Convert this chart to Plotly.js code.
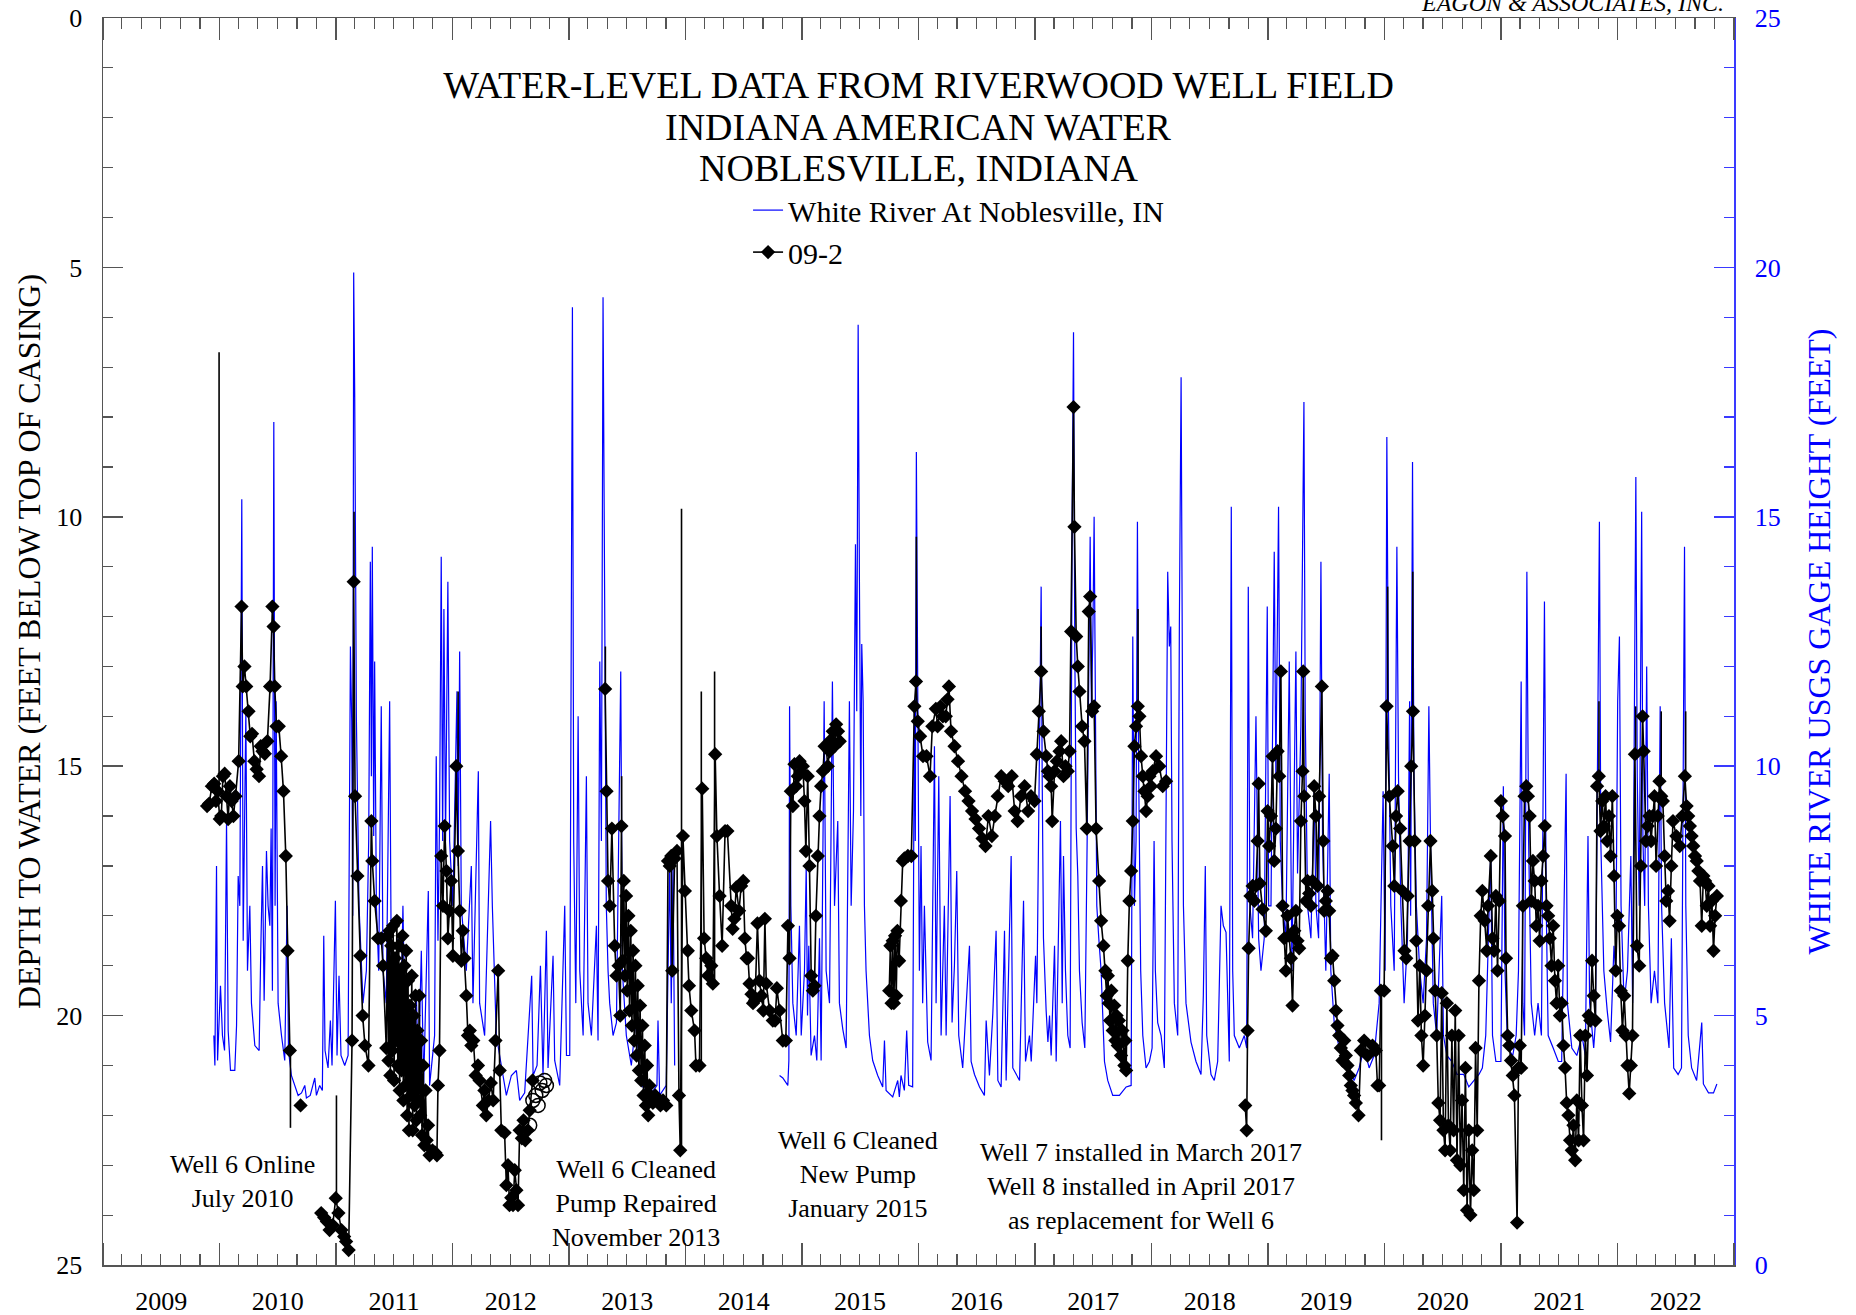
<!DOCTYPE html>
<html><head><meta charset="utf-8">
<script src="https://cdn.plot.ly/plotly-3.0.1.min.js"></script>
<style>html,body{margin:0;padding:0;background:#fff}#chart{width:1856px;height:1315px}</style>
</head><body><div id="chart"></div>
<script>
// ---- DATA (decimal year, value) ----
// White River gage height (ft), right axis
const riverReadings = [
[2009.952,4.6],[2009.961,4.0],[2009.975,8.0],[2009.984,4.1],[2010.009,5.6],[2010.026,4.6],[2010.044,4.3],[2010.061,8.9],[2010.075,4.7],[2010.095,3.9],[2010.132,3.9],[2010.147,4.8],[2010.161,7.8],[2010.175,7.2],[2010.192,15.35],[2010.204,6.5],[2010.227,11.1],[2010.241,5.9],[2010.261,7.2],[2010.275,5.25],[2010.304,4.4],[2010.341,4.3],[2010.355,6.3],[2010.37,8.0],[2010.384,5.3],[2010.404,8.3],[2010.418,7.2],[2010.433,6.8],[2010.444,8.75],[2010.455,5.5],[2010.467,16.9],[2010.478,7.2],[2010.487,11.3],[2010.504,5.25],[2010.533,4.6],[2010.561,4.1],[2010.581,7.2],[2010.593,4.3],[2010.618,3.8],[2010.647,3.6],[2010.676,3.4],[2010.705,3.45],[2010.733,3.6],[2010.747,3.35],[2010.78,3.4],[2010.819,3.75],[2010.833,3.4],[2010.861,3.6],[2010.884,3.5],[2010.896,6.6],[2010.907,4.3],[2010.933,3.95],[2010.953,4.9],[2010.967,4.0],[2010.996,7.3],[2011.01,4.2],[2011.027,5.8],[2011.044,4.2],[2011.076,4.0],[2011.105,4.2],[2011.125,12.4],[2011.136,10.9],[2011.145,7.0],[2011.153,19.9],[2011.162,17.4],[2011.176,11.0],[2011.199,7.2],[2011.233,5.25],[2011.262,5.9],[2011.282,8.5],[2011.296,14.1],[2011.305,9.8],[2011.313,14.4],[2011.325,8.6],[2011.333,12.1],[2011.348,7.2],[2011.368,5.9],[2011.39,11.2],[2011.405,5.9],[2011.433,5.25],[2011.462,11.3],[2011.476,5.9],[2011.505,4.6],[2011.533,6.55],[2011.553,4.3],[2011.576,7.2],[2011.599,4.0],[2011.634,3.8],[2011.662,3.6],[2011.691,5.5],[2011.708,3.7],[2011.734,6.3],[2011.754,3.6],[2011.794,7.5],[2011.805,3.6],[2011.848,4.6],[2011.862,10.2],[2011.877,6.5],[2011.891,9.0],[2011.905,14.2],[2011.917,8.5],[2011.928,13.15],[2011.942,8.5],[2011.962,13.7],[2011.977,8.5],[2012.005,7.2],[2012.04,11.5],[2012.051,8.0],[2012.063,12.3],[2012.077,7.2],[2012.12,5.9],[2012.163,8.0],[2012.177,5.25],[2012.223,9.9],[2012.234,5.25],[2012.277,4.6],[2012.328,8.9],[2012.343,7.2],[2012.377,4.6],[2012.42,4.0],[2012.463,3.4],[2012.506,3.8],[2012.549,3.9],[2012.577,3.3],[2012.62,3.45],[2012.68,5.8],[2012.692,3.8],[2012.726,4.0],[2012.755,6.0],[2012.777,3.8],[2012.806,6.7],[2012.82,3.95],[2012.863,6.2],[2012.877,4.1],[2012.92,3.6],[2012.963,7.2],[2012.978,4.2],[2013.006,4.2],[2013.021,11.9],[2013.029,19.2],[2013.04,8.5],[2013.058,5.25],[2013.078,11.0],[2013.092,5.9],[2013.121,4.6],[2013.149,9.8],[2013.163,5.25],[2013.192,4.6],[2013.235,6.8],[2013.249,4.5],[2013.264,12.1],[2013.278,8.5],[2013.292,19.4],[2013.306,13.1],[2013.32,7.2],[2013.335,5.9],[2013.349,5.25],[2013.378,4.6],[2013.407,4.86],[2013.444,11.9],[2013.458,5.9],[2013.492,4.6],[2013.535,4.0],[2013.578,5.0],[2013.607,3.7],[2013.65,3.5],[2013.693,3.4],[2013.755,3.6],[2013.764,4.9],[2013.778,3.4],[2013.835,3.6],[2013.864,8.0],[2013.878,5.25],[2013.893,8.0],[2013.907,4.0],
null,
[2014.808,3.8],[2014.836,3.75],[2014.879,3.6],[2014.888,4.1],[2014.894,11.2],[2014.905,7.2],[2014.922,5.25],[2014.951,4.6],[2014.979,6.8],[2014.994,4.6],[2015.022,5.9],[2015.037,8.0],[2015.048,5.0],[2015.059,6.4],[2015.079,4.2],[2015.108,4.6],[2015.128,4.1],[2015.151,6.55],[2015.165,4.1],[2015.191,11.3],[2015.208,5.9],[2015.237,5.25],[2015.262,11.7],[2015.28,7.2],[2015.308,8.9],[2015.322,5.25],[2015.351,4.73],[2015.38,4.35],[2015.408,11.3],[2015.423,7.2],[2015.443,9.1],[2015.46,14.45],[2015.471,11.1],[2015.483,18.85],[2015.494,13.7],[2015.506,9.0],[2015.514,12.45],[2015.526,11.3],[2015.537,7.2],[2015.551,5.9],[2015.58,4.6],[2015.608,4.1],[2015.651,3.8],[2015.694,3.57],[2015.709,4.5],[2015.723,3.5],[2015.78,3.37],[2015.823,3.7],[2015.837,3.37],[2015.851,3.8],[2015.88,3.5],[2015.9,4.7],[2015.917,3.6],[2015.951,3.57],[2015.966,11.3],[2015.974,8.5],[2015.983,16.3],[2015.995,11.1],[2016.009,5.9],[2016.023,8.4],[2016.037,5.25],[2016.052,7.2],[2016.08,4.47],[2016.109,4.1],[2016.138,10.4],[2016.152,5.25],[2016.175,9.8],[2016.195,4.6],[2016.223,7.2],[2016.238,4.6],[2016.272,9.4],[2016.289,4.86],[2016.309,6.0],[2016.329,7.9],[2016.346,4.6],[2016.38,3.95],[2016.438,6.4],[2016.452,4.08],[2016.481,3.82],[2016.524,3.57],[2016.566,3.4],[2016.581,4.9],[2016.609,3.8],[2016.638,5.05],[2016.666,6.7],[2016.681,3.7],[2016.709,3.57],[2016.738,6.7],[2016.752,3.7],[2016.795,8.2],[2016.809,3.95],[2016.867,3.7],[2016.901,7.3],[2016.918,4.08],[2016.952,4.6],[2016.967,4.08],[2017.004,6.2],[2017.015,5.25],[2017.032,9.0],[2017.044,11.1],[2017.052,13.6],[2017.061,9.8],[2017.072,6.55],[2017.095,5.1],[2017.11,4.47],[2017.124,5.0],[2017.138,4.2],[2017.167,6.4],[2017.181,4.08],[2017.218,8.9],[2017.233,5.25],[2017.244,8.2],[2017.261,5.9],[2017.281,4.6],[2017.301,4.35],[2017.318,14.8],[2017.33,18.7],[2017.341,12.4],[2017.353,8.75],[2017.367,7.8],[2017.381,5.9],[2017.404,4.86],[2017.427,4.35],[2017.447,8.5],[2017.461,12.6],[2017.473,14.6],[2017.484,11.1],[2017.496,12.6],[2017.507,15.0],[2017.519,9.8],[2017.53,7.2],[2017.547,6.55],[2017.567,5.9],[2017.596,4.08],[2017.624,3.7],[2017.667,3.4],[2017.724,3.4],[2017.782,3.57],[2017.825,3.6],[2017.839,12.6],[2017.853,7.2],[2017.867,8.5],[2017.879,14.9],[2017.89,9.8],[2017.907,5.9],[2017.925,4.6],[2017.953,3.95],[2017.982,4.08],[2018.005,4.35],[2018.022,8.5],[2018.033,5.9],[2018.053,4.86],[2018.082,4.6],[2018.11,3.95],[2018.139,13.9],[2018.153,12.4],[2018.165,12.8],[2018.176,8.5],[2018.196,5.25],[2018.225,4.6],[2018.239,12.8],[2018.254,17.8],[2018.262,12.4],[2018.274,7.2],[2018.296,5.25],[2018.339,4.47],[2018.382,4.08],[2018.425,3.82],[2018.445,5.4],[2018.462,8.0],[2018.474,4.6],[2018.511,3.82],[2018.539,3.7],[2018.568,4.08],[2018.597,7.2],[2018.617,6.8],[2018.64,6.67],[2018.668,4.08],[2018.685,15.2],[2018.697,5.9],[2018.711,4.6],[2018.754,4.35],[2018.797,4.6],[2018.817,4.35],[2018.831,13.6],[2018.845,7.2],[2018.868,6.55],[2018.897,11.0],[2018.92,6.55],[2018.94,5.9],[2018.968,6.55],[2018.994,13.2],[2019.006,7.2],[2019.026,7.2],[2019.054,14.3],[2019.068,9.8],[2019.091,15.2],[2019.106,8.5],[2019.126,7.2],[2019.154,6.55],[2019.183,12.1],[2019.206,5.9],[2019.24,12.3],[2019.254,7.85],[2019.283,10.8],[2019.297,13.7],[2019.309,17.3],[2019.32,11.1],[2019.34,7.2],[2019.369,6.55],[2019.397,9.5],[2019.412,7.2],[2019.435,6.55],[2019.455,14.1],[2019.469,8.5],[2019.497,5.9],[2019.526,9.85],[2019.54,5.9],[2019.569,4.86],[2019.612,4.35],[2019.655,4.08],[2019.698,3.95],[2019.74,3.7],[2019.783,3.95],[2019.826,4.35],[2019.869,3.95],[2019.912,4.2],[2019.955,5.25],[2019.989,9.5],[2020.006,5.9],[2020.021,16.6],[2020.035,11.1],[2020.055,7.2],[2020.084,5.9],[2020.107,14.4],[2020.121,9.8],[2020.141,7.2],[2020.169,5.25],[2020.198,6.55],[2020.216,11.3],[2020.225,7.0],[2020.241,16.1],[2020.253,9.8],[2020.274,7.2],[2020.303,5.9],[2020.332,5.25],[2020.361,6.55],[2020.381,11.2],[2020.395,8.5],[2020.419,5.25],[2020.448,4.6],[2020.491,7.4],[2020.506,4.6],[2020.535,4.2],[2020.578,4.08],[2020.622,3.82],[2020.68,3.82],[2020.723,3.57],[2020.766,3.7],[2020.81,3.82],[2020.839,3.95],[2020.868,4.6],[2020.911,8.3],[2020.926,4.6],[2020.955,4.08],[2020.998,4.08],[2021.019,9.6],[2021.033,5.9],[2021.056,4.35],[2021.1,4.2],[2021.129,4.6],[2021.149,5.9],[2021.172,11.7],[2021.187,5.25],[2021.201,4.6],[2021.221,13.9],[2021.236,8.5],[2021.259,5.25],[2021.288,4.6],[2021.317,5.25],[2021.346,4.6],[2021.372,13.3],[2021.387,7.2],[2021.404,4.6],[2021.447,4.35],[2021.491,4.08],[2021.52,4.08],[2021.558,9.85],[2021.569,5.25],[2021.607,4.35],[2021.65,4.2],[2021.694,4.6],[2021.723,4.2],[2021.746,8.6],[2021.76,5.25],[2021.795,4.35],[2021.81,4.86],[2021.844,14.9],[2021.856,8.5],[2021.882,5.9],[2021.911,5.1],[2021.94,4.47],[2021.969,6.4],[2021.984,5.9],[2022.001,11.3],[2022.016,12.6],[2022.03,7.2],[2022.056,5.25],[2022.085,5.9],[2022.114,8.2],[2022.129,5.25],[2022.157,15.8],[2022.169,9.8],[2022.186,7.2],[2022.207,15.1],[2022.218,8.5],[2022.233,7.2],[2022.25,12.0],[2022.265,7.2],[2022.288,5.25],[2022.317,5.9],[2022.346,5.25],[2022.366,11.2],[2022.378,7.2],[2022.404,5.25],[2022.442,4.35],[2022.462,6.55],[2022.482,3.95],[2022.52,3.82],[2022.549,3.95],[2022.575,14.4],[2022.586,7.2],[2022.607,4.6],[2022.636,3.95],[2022.679,3.7],[2022.723,4.86],[2022.737,3.63],[2022.781,3.45],[2022.824,3.45],[2022.853,3.63]
];

// Well 09-2 depth to water (ft below top of casing), left axis
const wellReadings = [
[2009.894,15.8],[2009.912,15.75],[2009.935,15.4],[2009.955,15.35],[2009.97,15.7],[2009.985,15.5],[2010.003,16.06],[2010.016,16.0],[2010.03,15.2],[2010.045,15.15],[2010.06,15.6],[2010.075,16.06],[2010.09,15.4],[2010.105,15.7],[2010.12,16.0],[2010.138,15.6],[2010.165,14.9],[2010.19,11.8],[2010.2,13.4],[2010.215,13.0],[2010.23,13.4],[2010.25,13.9],[2010.265,14.4],[2010.28,14.35],[2010.3,14.9],[2010.32,15.06],[2010.34,15.2],[2010.355,14.6],[2010.37,14.7],[2010.39,14.75],[2010.412,14.5],[2010.435,13.4],[2010.455,11.8],[2010.465,12.2],[2010.475,13.4],[2010.49,14.2],[2010.51,14.2],[2010.53,14.8],[2010.55,15.5],[2010.57,16.8],[2010.585,18.7],[2010.605,20.7],
null,
[2010.697,21.8],
null,
[2010.874,23.96],[2010.9,24.05],[2010.923,24.13],[2010.946,24.3],[2010.973,24.2],[2010.999,23.66],[2011.022,23.96],[2011.048,24.3],[2011.071,24.43],[2011.088,24.53],[2011.11,24.7],[2011.139,20.5],[2011.153,11.3],[2011.165,15.6],[2011.185,17.2],[2011.21,18.8],[2011.23,20.0],[2011.25,20.6],[2011.28,21.0],[2011.305,16.1],[2011.313,16.9],[2011.333,17.7],[2011.362,18.45],[2011.39,18.45],[2011.405,19.0],[2011.433,20.65],
[2011.445,18.4],[2011.452,20.9],[2011.46,18.3],[2011.468,21.2],[2011.476,18.6],[2011.484,20.7],[2011.492,18.2],[2011.5,21.3],[2011.508,18.85],[2011.516,20.5],[2011.524,18.1],[2011.532,21.0],[2011.54,18.6],[2011.548,21.5],[2011.556,19.1],[2011.564,21.1],[2011.572,18.4],[2011.58,21.7],[2011.588,19.0],[2011.596,21.4],[2011.604,18.7],[2011.612,22.0],[2011.62,19.3],[2011.628,22.3],[2011.636,19.8],[2011.644,21.6],[2011.652,19.2],[2011.66,22.3],[2011.668,20.0],[2011.676,21.8],[2011.684,19.6],[2011.692,22.1],[2011.7,20.3],[2011.708,21.7],[2011.716,19.6],[2011.724,22.0],[2011.732,20.5],[2011.74,22.4],[2011.75,21.0],[2011.76,22.6],[2011.77,21.5],[2011.78,22.5],[2011.792,22.2],
[2011.805,22.8],[2011.83,22.7],[2011.855,22.75],[2011.868,22.8],[2011.877,21.4],[2011.89,20.7],[2011.905,16.8],[2011.92,17.8],[2011.934,16.2],[2011.95,17.1],[2011.962,18.45],[2011.975,17.9],[2011.99,17.3],[2012.005,18.8],[2012.034,15.0],[2012.048,16.7],[2012.063,17.9],[2012.078,18.9],[2012.09,18.3],[2012.105,18.85],[2012.12,19.6],[2012.134,20.4],[2012.15,20.3],[2012.163,20.6],[2012.18,20.5],[2012.2,21.2],[2012.22,21.0],[2012.234,21.3],[2012.262,21.8],[2012.275,21.5],[2012.291,22.0],[2012.31,21.7],[2012.33,21.35],[2012.35,21.7],[2012.37,20.5],[2012.393,19.1],[2012.406,21.1],[2012.42,22.3],[2012.448,22.35],[2012.463,23.4],[2012.477,23.0],[2012.49,23.8],[2012.505,23.65],[2012.52,23.8],[2012.535,23.1],[2012.549,23.5],[2012.563,23.8],[2012.577,22.3],[2012.596,22.46],[2012.61,22.1],[2012.625,22.5],[2012.647,22.3],[2012.663,21.9],[2012.688,21.3],
null,
[2013.31,13.45],[2013.322,15.5],[2013.335,17.3],[2013.35,17.8],[2013.368,16.25],[2013.392,18.6],[2013.407,19.2],[2013.425,19.0],[2013.44,20.0],[2013.45,16.2],
[2013.46,18.9],[2013.47,17.3],[2013.48,19.2],[2013.49,17.6],[2013.5,19.5],[2013.51,18.0],[2013.52,19.9],[2013.53,18.3],[2013.54,20.2],[2013.55,18.7],[2013.56,20.5],[2013.57,19.0],[2013.58,20.8],[2013.59,19.4],[2013.6,21.1],[2013.61,19.8],[2013.62,21.3],[2013.63,20.2],[2013.64,21.6],[2013.65,20.6],[2013.66,21.8],[2013.67,21.0],[2013.68,22.0],[2013.69,21.4],
[2013.7,21.6],[2013.72,21.75],[2013.74,21.6],[2013.764,21.7],[2013.785,21.8],[2013.807,21.7],[2013.835,21.8],[2013.85,16.9],[2013.865,17.0],[2013.878,16.8],[2013.886,19.1],[2013.907,16.85],[2013.927,16.7],[2013.944,21.6],[2013.955,22.7],[2013.978,16.4],[2013.995,17.5],[2014.02,18.7],[2014.03,19.4],[2014.05,19.9],[2014.078,20.3],[2014.09,21.0],[2014.12,21.0],[2014.144,15.45],[2014.16,18.45],[2014.178,18.85],[2014.193,19.2],[2014.222,19.0],[2014.235,19.36],[2014.255,14.76],[2014.27,16.4],[2014.293,17.6],[2014.315,18.6],[2014.34,16.3],[2014.36,16.3],[2014.393,17.8],[2014.405,18.26],[2014.42,18.06],[2014.436,17.43],[2014.46,17.9],[2014.478,17.4],[2014.496,17.3],[2014.51,18.45],[2014.525,18.85],[2014.537,18.85],[2014.55,19.36],[2014.567,19.57],[2014.58,19.75],[2014.598,19.69],[2014.618,18.15],[2014.635,19.3],[2014.652,19.6],[2014.669,19.9],[2014.682,18.06],[2014.694,19.36],[2014.722,19.9],[2014.75,20.1],[2014.77,20.1],[2014.785,19.45],[2014.808,19.9],[2014.836,20.5],[2014.862,20.5],[2014.88,18.2],[2014.894,18.85],[2014.905,15.5],[2014.922,15.8],[2014.936,14.96],[2014.95,15.4],[2014.965,15.2],[2014.98,14.9],[2014.994,15.1],[2015.008,15.0],[2015.022,15.7],[2015.034,16.7],[2015.05,15.2],[2015.065,17.0],[2015.08,19.2],[2015.094,19.5],[2015.108,19.4],[2015.12,18.0],[2015.137,16.8],[2015.151,16.0],[2015.165,15.4],[2015.18,15.1],[2015.195,14.6],[2015.208,14.6],[2015.222,15.0],[2015.237,14.7],[2015.25,14.47],[2015.265,14.3],[2015.28,14.6],[2015.294,14.16],[2015.31,14.3],[2015.325,14.5],
null,
[2015.75,19.5],[2015.76,18.6],[2015.77,19.75],[2015.78,18.5],[2015.79,19.75],[2015.8,18.4],[2015.81,19.6],[2015.82,18.3],[2015.835,18.9],[2015.85,17.7],[2015.866,16.9],[2015.88,16.85],[2015.91,16.8],[2015.94,16.8],[2015.966,13.8],[2015.98,13.3],[2015.995,14.1],[2016.015,14.4],[2016.04,14.8],[2016.07,14.8],[2016.1,15.2],[2016.12,14.2],[2016.15,13.85],[2016.165,14.2],[2016.19,13.8],[2016.21,14.0],[2016.235,14.0],[2016.25,13.66],[2016.262,13.4],[2016.28,14.3],[2016.31,14.6],[2016.34,14.9],[2016.37,15.2],[2016.4,15.5],[2016.43,15.7],[2016.46,15.9],[2016.49,16.06],[2016.52,16.25],[2016.55,16.45],[2016.575,16.6],[2016.6,16.0],[2016.63,16.4],[2016.655,16.0],[2016.68,15.6],[2016.71,15.2],[2016.74,15.3],[2016.77,15.4],[2016.8,15.2],[2016.825,15.9],[2016.85,16.1],[2016.88,15.6],[2016.91,15.4],[2016.94,15.9],[2016.965,15.6],[2016.995,15.7],[2017.015,14.76],[2017.032,13.9],[2017.052,13.1],[2017.072,14.3],[2017.095,14.8],[2017.11,15.1],[2017.124,15.2],[2017.138,15.4],[2017.147,16.1],[2017.167,15.1],[2017.187,14.9],[2017.21,14.7],[2017.224,14.5],[2017.244,15.2],[2017.261,15.0],[2017.281,15.1],[2017.296,14.7],[2017.31,12.3],[2017.33,7.8],[2017.338,10.2],[2017.353,12.4],[2017.367,13.0],[2017.381,13.5],[2017.404,14.2],[2017.424,14.5],[2017.444,16.25],[2017.461,11.9],[2017.473,11.6],[2017.49,13.9],[2017.507,13.8],[2017.524,16.25],[2017.55,17.3],[2017.567,18.1],[2017.587,18.6],[2017.604,19.1],[2017.615,19.6],[2017.625,19.2],[2017.633,19.75],[2017.644,20.1],[2017.655,19.5],[2017.667,20.3],[2017.68,19.8],[2017.69,20.5],[2017.7,20.0],[2017.71,20.6],[2017.72,20.1],[2017.738,20.8],[2017.75,20.3],[2017.767,21.0],[2017.775,20.5],[2017.782,21.1],[2017.796,18.9],[2017.81,17.7],[2017.825,17.1],[2017.839,16.1],[2017.853,14.6],[2017.867,14.2],[2017.882,13.8],[2017.896,14.0],[2017.91,14.8],[2017.925,15.2],[2017.939,15.5],[2017.953,15.9],[2017.967,15.6],[2017.982,15.2],[2017.996,15.4],[2018.01,15.1],[2018.039,14.8],[2018.067,15.0],[2018.096,15.4],[2018.125,15.3],
null,
[2018.805,21.8],[2018.817,22.3],[2018.825,20.3],[2018.834,18.65],[2018.85,17.6],[2018.868,17.4],[2018.883,17.7],[2018.897,17.4],[2018.911,16.5],[2018.92,15.35],[2018.931,17.35],[2018.954,17.87],[2018.982,18.3],[2018.997,15.9],[2019.01,16.6],[2019.026,16.0],[2019.04,14.8],[2019.054,16.9],[2019.068,16.25],[2019.083,14.7],[2019.097,15.2],[2019.111,13.1],[2019.126,17.8],[2019.14,18.45],[2019.154,19.1],[2019.168,18.0],[2019.183,18.4],[2019.197,18.85],[2019.211,19.8],[2019.226,18.3],[2019.24,17.9],[2019.254,18.5],[2019.268,18.65],[2019.283,16.1],[2019.297,15.1],[2019.303,13.1],[2019.311,15.6],[2019.326,17.7],[2019.34,17.3],[2019.354,17.55],[2019.369,17.8],[2019.383,17.3],[2019.397,15.4],[2019.412,16.0],[2019.426,17.4],[2019.44,15.6],[2019.463,13.4],[2019.475,16.5],[2019.483,17.9],[2019.497,17.7],[2019.512,17.5],[2019.526,17.9],[2019.54,18.85],[2019.555,18.8],[2019.569,19.3],[2019.583,19.9],[2019.597,20.2],[2019.612,20.4],[2019.626,20.65],[2019.64,20.9],[2019.655,20.5],[2019.669,20.8],[2019.683,21.0],[2019.698,21.2],[2019.712,21.4],[2019.726,21.5],[2019.74,21.6],[2019.755,21.75],[2019.778,22.0],[2019.798,20.7],[2019.826,20.5],[2019.855,20.8],[2019.898,20.6],[2019.926,20.7],[2019.941,21.4],[2019.955,21.4],[2019.97,19.5],[2019.998,19.5],[2020.019,13.8],[2020.042,15.6],[2020.071,16.6],[2020.085,17.4],[2020.1,16.0],[2020.114,15.5],[2020.135,16.25],[2020.155,17.5],[2020.172,18.7],[2020.187,18.85],[2020.2,17.6],[2020.216,16.5],[2020.23,15.0],[2020.245,13.9],[2020.259,16.5],[2020.273,18.5],[2020.288,20.1],[2020.303,19.0],[2020.317,20.4],[2020.332,21.0],[2020.347,20.0],[2020.361,19.1],[2020.375,17.8],[2020.395,16.5],[2020.41,17.5],[2020.419,18.45],[2020.435,19.5],[2020.448,20.4],[2020.462,21.75],[2020.477,22.1],[2020.491,19.55],[2020.506,22.3],[2020.52,22.7],[2020.535,19.75],[2020.549,22.2],[2020.564,22.7],[2020.578,20.4],[2020.593,22.3],[2020.607,19.9],[2020.622,22.9],[2020.636,20.4],[2020.651,23.0],[2020.665,21.7],[2020.68,23.5],[2020.694,21.05],[2020.708,23.9],[2020.723,22.3],[2020.737,24.0],[2020.752,22.7],[2020.766,23.5],[2020.781,20.65],[2020.795,22.3],[2020.81,19.3],[2020.825,18.0],[2020.839,17.5],[2020.859,18.1],[2020.877,18.7],[2020.888,17.8],[2020.911,16.8],[2020.926,18.45],[2020.94,18.7],[2020.955,17.6],[2020.969,19.1],[2020.984,17.7],[2020.998,15.7],[2021.013,16.0],[2021.033,16.4],[2021.042,18.85],[2021.056,20.4],[2021.07,20.6],[2021.085,20.9],[2021.1,21.2],[2021.114,21.6],[2021.137,24.15],[2021.149,21.05],[2021.16,20.6],[2021.172,21.05],[2021.187,17.8],[2021.201,15.6],[2021.216,15.4],[2021.23,15.6],[2021.245,16.0],[2021.259,17.7],[2021.273,16.9],[2021.288,17.3],[2021.302,18.2],[2021.317,17.8],[2021.331,18.5],[2021.346,17.3],[2021.36,16.8],[2021.375,16.2],[2021.39,17.8],[2021.404,18.0],[2021.418,18.45],[2021.433,19.0],[2021.447,18.2],[2021.462,19.3],[2021.476,19.75],[2021.49,19.0],[2021.505,20.0],[2021.52,19.75],[2021.535,20.6],[2021.549,21.05],[2021.563,21.75],[2021.578,22.0],[2021.592,22.5],[2021.607,22.7],[2021.621,22.2],[2021.636,22.9],[2021.65,21.7],[2021.665,22.5],[2021.679,20.4],[2021.694,21.8],[2021.708,22.5],[2021.723,20.4],[2021.737,21.2],[2021.752,20.0],[2021.766,20.1],[2021.781,18.9],[2021.795,19.6],[2021.81,20.1],[2021.824,15.4],[2021.839,15.2],[2021.853,16.3],[2021.868,15.7],[2021.882,16.2],[2021.897,15.6],[2021.911,16.5],[2021.926,16.0],[2021.94,16.8],[2021.955,15.6],[2021.97,17.2],[2021.984,19.1],[2021.998,18.0],[2022.013,18.2],[2022.027,19.5],[2022.042,20.3],[2022.057,19.6],[2022.071,20.4],[2022.085,21.0],[2022.1,21.56],[2022.114,21.0],[2022.128,20.4],[2022.149,14.76],[2022.166,18.6],[2022.186,19.0],[2022.2,17.0],[2022.215,14.0],[2022.224,14.7],[2022.244,16.5],[2022.259,16.2],[2022.273,16.0],[2022.288,16.5],[2022.302,16.0],[2022.317,15.6],[2022.331,17.0],[2022.345,16.0],[2022.36,15.3],[2022.375,15.6],[2022.389,15.7],[2022.404,16.8],[2022.418,17.7],[2022.433,17.5],[2022.447,18.1],[2022.462,17.0],[2022.476,16.1],[2022.505,16.4],[2022.534,16.6],[2022.556,16.0],[2022.578,15.2],[2022.593,15.8],[2022.607,16.0],[2022.621,16.2],[2022.636,16.4],[2022.65,16.6],[2022.665,16.8],[2022.68,16.9],[2022.694,17.1],[2022.708,17.3],[2022.723,18.2],[2022.737,17.2],[2022.752,17.3],[2022.766,17.8],[2022.781,17.4],[2022.795,18.2],[2022.81,17.7],[2022.824,18.7],[2022.838,18.0],[2022.853,17.6]
];

// Unmarked well readings drawn as thin lines: [decimal year, from depth, to depth]
const wellSpikes = [
[2009.997,15.5,6.7],[2010.61,20.7,22.25],[2011.005,23.7,21.6],[2011.156,11.3,9.9],[2012.05,15.0,13.5],
[2013.312,13.45,12.6],[2013.452,16.2,15.2],[2013.966,22.7,9.84],[2014.136,21.0,13.5],[2014.25,19.36,13.1],
[2015.983,13.3,10.4],[2017.052,13.1,12.2],[2017.884,13.8,11.85],[2019.975,19.5,22.5],[2020.028,13.8,11.4],
[2020.243,13.9,11.1],[2021.84,15.2,13.7],[2022.155,14.76,13.8],[2022.375,15.3,13.9],[2022.585,15.2,13.9]
];

// Open-circle readings near late 2012
const wellCircleReadings = [
[2012.663,22.2],[2012.69,21.7],[2012.715,21.6],[2012.735,21.8],[2012.75,21.35],[2012.77,21.5],[2012.79,21.3],[2012.806,21.4]
];

// Title lines
const titleLines = ['WATER-LEVEL DATA FROM RIVERWOOD WELL FIELD', 'INDIANA AMERICAN WATER', 'NOBLESVILLE, INDIANA'];

// ---- helpers ----
function yearToDate(y){
  if (y === null || y === undefined) return null;
  const yr = Math.floor(y);
  const s = Date.UTC(yr,0,1), e = Date.UTC(yr+1,0,1);
  return new Date(s + (y - yr) * (e - s)).toISOString().replace('T',' ').slice(0,19);
}
const xs = arr => arr.map(p => p ? yearToDate(p[0]) : null);
const ys = arr => arr.map(p => p ? p[1] : null);

const spikeX = [], spikeY = [];
wellSpikes.forEach(s => { const d = yearToDate(s[0]); spikeX.push(d, d, null); spikeY.push(s[1], s[2], null); });

const FONT = '"Liberation Serif", "Times New Roman", Times, serif';
const BLUE = '#0000ff';
const AXIS = '#555555';

const traces = [
  { type:'scatter', mode:'lines', name:'White River At Noblesville, IN',
    x: xs(riverReadings), y: ys(riverReadings), yaxis:'y',
    line:{color:BLUE, width:1.2}, connectgaps:false, hoverinfo:'x+y' },
  { type:'scatter', mode:'lines', name:'09-2 (unmarked)', showlegend:false,
    x: spikeX, y: spikeY, yaxis:'y2', line:{color:'#000', width:1.6}, connectgaps:false, hoverinfo:'skip' },
  { type:'scatter', mode:'lines+markers', name:'09-2',
    x: xs(wellReadings), y: ys(wellReadings), yaxis:'y2', connectgaps:false,
    line:{color:'#000', width:1.6}, marker:{symbol:'diamond', size:11, color:'#000'} },
  { type:'scatter', mode:'markers', name:'09-2 (circles)', showlegend:false,
    x: xs(wellCircleReadings), y: ys(wellCircleReadings), yaxis:'y2',
    marker:{symbol:'circle-open', size:14, color:'#000', line:{width:1.5, color:'#000'}} }
];

// title line centres (px from top of page) -> paper coordinates of the 1247-px-tall plot starting at y=18
const paperY = px => 1 - (px - 18) / 1247;

const layout = {
  width:1856, height:1315,
  margin:{l:103, r:122, t:18, b:50},
  paper_bgcolor:'#fff', plot_bgcolor:'rgba(0,0,0,0)',
  font:{family:FONT, size:26, color:'#000'},
  title:{ text: titleLines[0],
    font:{family:FONT, size:38, color:'#000'}, x:0.5, xref:'paper', xanchor:'center',
    y:1 - 85/1315, yref:'container', yanchor:'middle' },
  showlegend:true,
  legend:{ x:0.3955, y:0.8668, xanchor:'left', yanchor:'top', bgcolor:'rgba(0,0,0,0)',
    font:{family:FONT, size:30, color:'#000'}, tracegroupgap:0 },
  xaxis:{ type:'date', range:['2009-01-01','2023-01-01'], tick0:'2009-01-01', dtick:'M12',
    tickformat:'%Y', ticklabelmode:'period', ticks:'inside', ticklen:22, tickwidth:1.5, tickcolor:AXIS,
    showline:true, linecolor:AXIS, linewidth:1.5, mirror:'ticks', showgrid:false, zeroline:false,
    ticklabelstandoff:12, tickfont:{family:FONT, size:26, color:'#000'},
    minor:{ dtick:'M2', tick0:'2009-01-01', ticks:'inside', ticklen:11, tickwidth:1.2, tickcolor:AXIS, showgrid:false } },
  yaxis:{ range:[0,25], side:'right', tick0:0, dtick:5, ticks:'inside', ticklen:20, tickwidth:1.5,
    tickcolor:'#3a3aff', showline:true, linecolor:'#3a3aff', linewidth:1.5, showgrid:false, zeroline:false,
    ticklabelstandoff:14, tickfont:{family:FONT, size:26, color:BLUE},
    minor:{ dtick:1, ticks:'inside', ticklen:10, tickwidth:1.2, tickcolor:'#3a3aff', showgrid:false },
    title:{ text:'WHITE RIVER USGS GAGE HEIGHT (FEET)', font:{family:FONT, size:32, color:BLUE}, standoff:28 } },
  yaxis2:{ overlaying:'y', side:'left', range:[25,0], tick0:0, dtick:5, ticks:'inside', ticklen:20, tickwidth:1.5,
    tickcolor:AXIS, showline:true, linecolor:AXIS, linewidth:1.5, showgrid:false, zeroline:false,
    ticklabelstandoff:14, tickfont:{family:FONT, size:26, color:'#000'},
    minor:{ dtick:1, ticks:'inside', ticklen:10, tickwidth:1.2, tickcolor:AXIS, showgrid:false },
    title:{ text:'DEPTH TO WATER (FEET BELOW TOP OF CASING)', font:{family:FONT, size:32, color:'#000'}, standoff:6 } },
  annotations:[
    { text:titleLines[1], xref:'paper', yref:'paper', x:0.5, y:paperY(127), xanchor:'center', yanchor:'middle',
      showarrow:false, font:{family:FONT, size:38, color:'#000'} },
    { text:titleLines[2], xref:'paper', yref:'paper', x:0.5, y:paperY(168), xanchor:'center', yanchor:'middle',
      showarrow:false, font:{family:FONT, size:38, color:'#000'} },
    { text:'<i>EAGON &amp; ASSOCIATES, INC.</i>', xref:'paper', yref:'paper', x:0.995, y:1, xanchor:'right', yanchor:'bottom',
      showarrow:false, font:{family:FONT, size:24, color:'#000'} },
    { text:'Well 6 Online<br>July 2010', xref:'paper', yref:'paper', x:0.0858, y:0.0666, xanchor:'center', yanchor:'middle', showarrow:false, font:{family:FONT, size:26} },
    { text:'Well 6 Cleaned<br>Pump Repaired<br>November 2013', xref:'paper', yref:'paper', x:0.3268, y:0.0497, xanchor:'center', yanchor:'middle', showarrow:false, font:{family:FONT, size:26} },
    { text:'Well 6 Cleaned<br>New Pump<br>January 2015', xref:'paper', yref:'paper', x:0.4629, y:0.0722, xanchor:'center', yanchor:'middle', showarrow:false, font:{family:FONT, size:26} },
    { text:'Well 7 installed in March 2017<br>Well 8 installed in April 2017<br>as replacement for Well 6', xref:'paper', yref:'paper', x:0.6364, y:0.0626, xanchor:'center', yanchor:'middle', showarrow:false, font:{family:FONT, size:26} }
  ]
};

Plotly.newPlot('chart', traces, layout, {displayModeBar:false, staticPlot:true});
</script>
</body></html>
